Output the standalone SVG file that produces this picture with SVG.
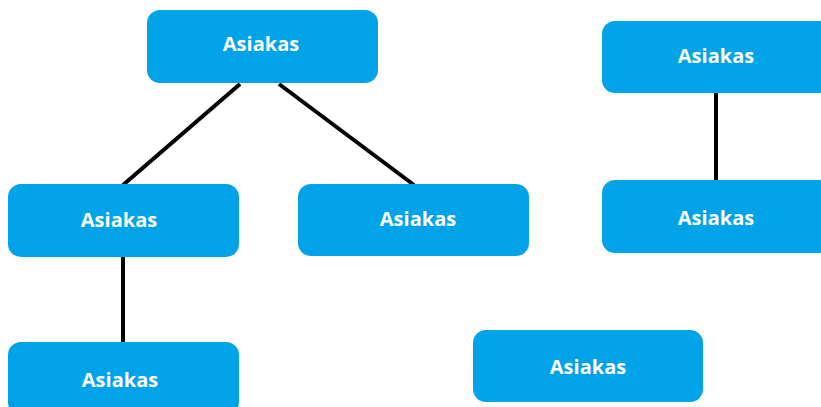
<svg xmlns="http://www.w3.org/2000/svg" width="821" height="407" viewBox="0 0 821 407">
<style>
.box{fill:#00A3E8;}
.lbl{fill:#fff;font-family:"Open Sans","Noto Sans",sans-serif;font-weight:bold;font-size:20px;text-anchor:middle;dominant-baseline:central;}
.conn{stroke:#000;stroke-width:4;fill:none;}
</style>
<rect width="821" height="407" fill="#fff"/>
<g id="connectors">
<line class="conn" x1="240" y1="84" x2="123" y2="185"/>
<line class="conn" x1="279" y1="84" x2="414" y2="185"/>
<line class="conn" x1="123" y1="257" x2="123" y2="342"/>
<line class="conn" x1="716" y1="93" x2="716" y2="180"/>
</g>
<g id="n1"><rect class="box" x="147" y="10" width="231" height="73" rx="13"/><text class="lbl" x="261" y="43">Asiakas</text></g>
<g id="n2"><rect class="box" x="8" y="184" width="231" height="73" rx="13"/><text class="lbl" x="119" y="219">Asiakas</text></g>
<g id="n3"><rect class="box" x="298" y="184" width="231" height="72" rx="13"/><text class="lbl" x="418" y="218">Asiakas</text></g>
<g id="n4"><rect class="box" x="8" y="342" width="231" height="73" rx="13"/><text class="lbl" x="120" y="379">Asiakas</text></g>
<g id="n5"><rect class="box" x="602" y="21" width="230" height="72" rx="13"/><text class="lbl" x="716" y="55">Asiakas</text></g>
<g id="n6"><rect class="box" x="602" y="180" width="230" height="73" rx="13"/><text class="lbl" x="716" y="217">Asiakas</text></g>
<g id="n7"><rect class="box" x="473" y="330" width="230" height="72" rx="13"/><text class="lbl" x="588" y="366">Asiakas</text></g>
</svg>
